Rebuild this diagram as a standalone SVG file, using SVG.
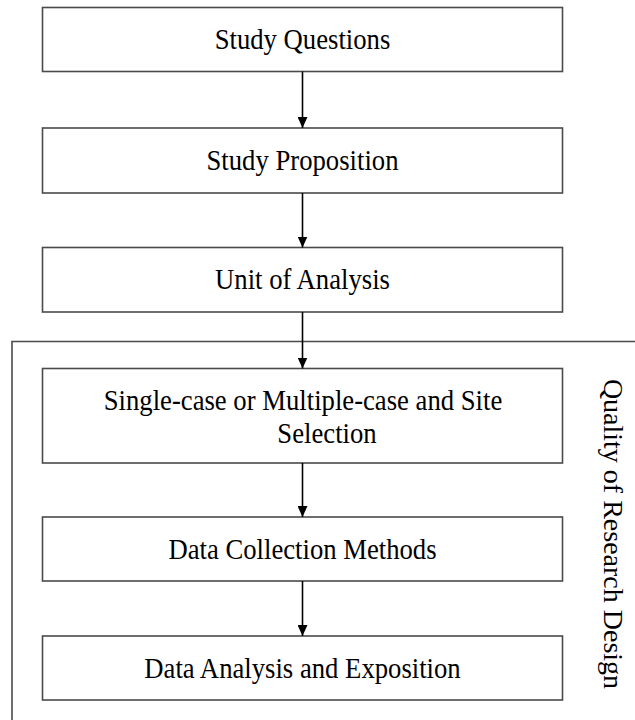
<svg xmlns="http://www.w3.org/2000/svg" width="635" height="720" viewBox="0 0 635 720">
  <style>
    .box { fill: #ffffff; stroke: #4a4a4a; stroke-width: 1.6; }
    .frame { fill: none; stroke: #4a4a4a; stroke-width: 1.6; }
    .lbl { font-family: "Liberation Serif", "Times New Roman", serif; font-size: 29px; fill: #000000; text-anchor: middle; }
    .side { font-family: "Liberation Serif", "Times New Roman", serif; font-size: 28px; fill: #000000; text-anchor: middle; }
    .edge { stroke: #000000; stroke-width: 1.6; fill: none; marker-end: url(#arrow); }
  </style>
  <defs>
    <marker id="arrow" markerUnits="userSpaceOnUse" viewBox="0 0 11 10" markerWidth="11" markerHeight="10" refX="11" refY="5" orient="auto">
      <path d="M0,0 L11,5 L0,10 Z" fill="#000000"/>
    </marker>
  </defs>

  <!-- outer frame: open to the right and bottom -->
  <path class="frame" d="M 640 341.5 H 12 V 725"/>

  <!-- process steps (labels are slightly condensed horizontally) -->
  <g id="study-questions">
    <rect class="box" x="42.5" y="7.5" width="520" height="64"/>
    <text class="lbl" transform="translate(302.5 49) scale(0.92 1)">Study Questions</text>
  </g>
  <g id="study-proposition">
    <rect class="box" x="42.5" y="128" width="520" height="65"/>
    <text class="lbl" transform="translate(302.5 170) scale(0.92 1)">Study Proposition</text>
  </g>
  <g id="unit-of-analysis">
    <rect class="box" x="42.5" y="247.5" width="520" height="64.5"/>
    <text class="lbl" transform="translate(302.5 289) scale(0.92 1)">Unit of Analysis</text>
  </g>
  <g id="case-selection">
    <rect class="box" x="42.5" y="368.5" width="520" height="94.5"/>
    <text class="lbl" transform="translate(303 409.5) scale(0.92 1)">Single-case or Multiple-case and Site</text>
    <text class="lbl" transform="translate(327 442.5) scale(0.92 1)">Selection</text>
  </g>
  <g id="data-collection">
    <rect class="box" x="42.5" y="517" width="520" height="64"/>
    <text class="lbl" transform="translate(302.5 558.5) scale(0.92 1)">Data Collection Methods</text>
  </g>
  <g id="data-analysis">
    <rect class="box" x="42.5" y="636" width="520" height="64"/>
    <text class="lbl" transform="translate(302.5 677.5) scale(0.92 1)">Data Analysis and Exposition</text>
  </g>

  <!-- side label -->
  <g id="quality-label">
    <text class="side" transform="translate(603.5 534) rotate(90)">Quality of Research Design</text>
  </g>

  <!-- connectors -->
  <g id="connectors">
    <line class="edge" x1="302.5" y1="71.5" x2="302.5" y2="128"/>
    <line class="edge" x1="302.5" y1="193" x2="302.5" y2="247.5"/>
    <line class="edge" x1="302.5" y1="312" x2="302.5" y2="368.5"/>
    <line class="edge" x1="302.5" y1="463" x2="302.5" y2="517"/>
    <line class="edge" x1="302.5" y1="581" x2="302.5" y2="636"/>
  </g>
</svg>
